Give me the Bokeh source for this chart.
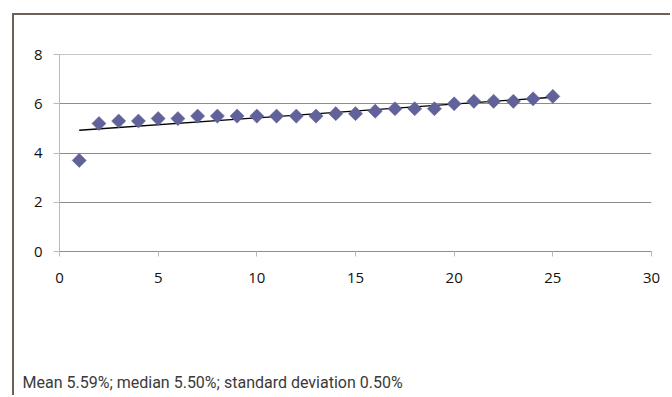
import numpy as np
from bokeh.plotting import figure
from bokeh.models import Range1d, FixedTicker, Title
from bokeh.embed import file_html
from bokeh.resources import INLINE

# Rate by rank (1..25)
rank = list(range(1, 26))
rate = [3.7, 5.2, 5.3, 5.3, 5.4, 5.4, 5.5, 5.5, 5.5, 5.5, 5.5, 5.5, 5.5,
        5.6, 5.6, 5.7, 5.8, 5.8, 5.8, 6.0, 6.1, 6.1, 6.1, 6.2, 6.3]

x_ticks = [0, 5, 10, 15, 20, 25, 30]
y_ticks = [0, 2, 4, 6, 8]
caption = "Mean 5.59%; median 5.50%; standard deviation 0.50%"

MARKER = "#62629b"
GRID = "#8c8c8c"
AXIS_LIGHT = "#b9b9b9"
FRAME_BORDER = "#6c6159"
TICK_FONT = "Open Sans"
CAPTION_FONT = "Roboto"

p = figure(
    width=658, height=382,
    # tiny headroom so the gridline at 8 is still drawn
    x_range=Range1d(0, 30), y_range=Range1d(0, 8.002),
    output_backend="svg", toolbar_location=None,
    min_border_left=45, min_border_right=21,
    min_border_top=39, min_border_bottom=146,
    background_fill_color="white", border_fill_color="white",
    margin=(13, 0, 0, 12),
)
p.styles = {
    "border-top": f"2px solid {FRAME_BORDER}",
    "border-left": f"2px solid {FRAME_BORDER}",
}
p.outline_line_color = None

# grid
p.xgrid.visible = False
p.ygrid.ticker = FixedTicker(ticks=y_ticks)
p.ygrid.grid_line_color = GRID
p.ygrid.grid_line_width = 1

# axes
p.xaxis.ticker = FixedTicker(ticks=x_ticks)
p.yaxis.ticker = FixedTicker(ticks=y_ticks)
for ax in (p.xaxis[0], p.yaxis[0]):
    ax.major_tick_in = 0
    ax.minor_tick_line_color = None
    ax.major_label_text_font = TICK_FONT
    ax.major_label_text_font_size = "15px"
    ax.major_label_text_color = "#111111"
    ax.major_tick_line_color = AXIS_LIGHT
p.yaxis.axis_line_color = AXIS_LIGHT
p.yaxis.major_tick_out = 6
p.yaxis.major_label_standoff = 11
p.xaxis.axis_line_color = GRID
p.xaxis.major_tick_out = 5
p.xaxis.major_label_standoff = 16

# linear trend through the points
slope, intercept = np.polyfit(rank, rate, 1)
trend_x = [rank[0], rank[-1]]
trend_y = [intercept + slope * v for v in trend_x]
p.line(trend_x, trend_y, line_color="black", line_width=1.3)

# points as diamonds (rotated squares)
p.scatter(rank, rate, marker="square", angle=np.pi / 4, size=10,
          fill_color=MARKER, line_color=MARKER, line_width=0.5)

# blank spacer between the x axis and the caption
p.add_layout(Title(
    text=" ", standoff=64, text_font=CAPTION_FONT, text_font_size="16px",
), "below")

# summary caption at the foot of the chart
p.add_layout(Title(
    text=caption, align="left", offset=-37, standoff=0,
    text_font=CAPTION_FONT, text_font_size="16px", text_font_style="normal",
    text_color="#3a3a3a",
), "below")

open("out.html", "w").write(file_html(p, INLINE))
